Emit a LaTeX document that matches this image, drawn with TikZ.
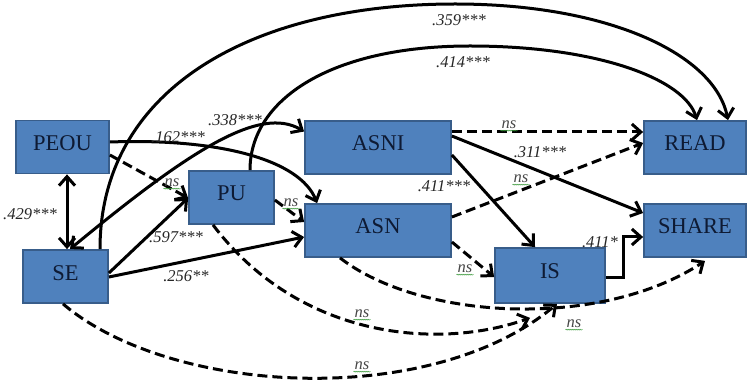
\documentclass[tikz,border=0pt]{standalone}
\usepackage{fontspec}
\setmainfont{Liberation Serif}
\usetikzlibrary{arrows.meta,calc,decorations.pathmorphing}
\definecolor{boxfill}{HTML}{4F81BD}
\definecolor{boxline}{HTML}{385D8A}
\definecolor{boxtext}{HTML}{0E1A33}
\definecolor{labtext}{HTML}{262626}
\definecolor{wavy}{HTML}{3C9A3C}
\begin{document}
\begin{tikzpicture}[x=1pt,y=-1pt,
  box/.style={draw=boxline, line width=1.8pt, fill=boxfill, inner sep=0pt, text=boxtext,
    font=\fontsize{22.5}{22.5}\selectfont, text height=15pt, text depth=8pt, minimum height=53pt},
  lab/.style={font=\fontsize{16.5}{16.5}\selectfont\itshape, text=labtext, inner sep=1pt},
  wavyline/.style={draw=wavy, line width=0.5pt, decorate, decoration={snake, amplitude=0.5pt, segment length=2pt}},
  nslab/.style={lab, text=labtext!85, append after command={([yshift=-0.5pt]\tikzlastnode.south west) edge[wavyline] ([yshift=-0.5pt]\tikzlastnode.south east)}},
  tipx/.tip={Straight Barb[length=9pt,width=16pt]},
  conn/.style={line width=3pt, -tipx},
  dconn/.style={conn, dash pattern=on 10pt off 5pt},
]
\useasboundingbox (0,0) rectangle (749,387);

% boxes
\node[box, minimum width=93pt]  (PEOU)  at (62.5,147)   {PEOU};
\node[box, minimum width=85pt]  (SE)    at (65.5,276.5) {SE};
\node[box, minimum width=85pt]  (PU)    at (231.5,197.5) {PU};
\node[box, minimum width=146pt] (ASNI)  at (378,147.5)  {ASNI};
\node[box, minimum width=146pt] (ASN)   at (378,230.5)  {ASN};
\node[box, minimum width=110pt, minimum height=55pt] (IS) at (550,275.5) {IS};
\node[box, minimum width=102pt] (READ)  at (695,147.5)  {READ};
\node[box, minimum width=102pt] (SHARE) at (695,230.5)  {SHARE};

% long arcs
\draw[conn] ($(SE.north)+(34.5,0)$) .. controls (100,90) and (250,4) .. (455,4)
            .. controls (610,4) and (715,55) .. ($(READ.north)+(33,0)$);
\draw[conn] ($(PU.north)+(18.5,0)$) .. controls (250,100) and (330,46) .. (470,46)
            .. controls (600,46) and (685,80) .. ($(READ.north)+(2,0)$);

% curved connectors
\draw[conn, tipx-tipx] ($(SE.north)+(4.5,0)$) .. controls (190,150) and (260,105) .. ($(ASNI.west)+(0,-16)$);
\draw[conn] ($(PEOU.east)+(0,-5)$) .. controls (220,138) and (300,160) .. ($(ASN.north west)+(13,0)$);
\draw[dconn] ($(PU.south)+(-18.5,0)$) .. controls (300,340) and (440,350) .. ($(IS.south)+(-20,14)$);
\draw[dconn] ($(SE.south)+(-2.5,0)$) .. controls (170,395) and (430,410) .. ($(IS.south)+(7,0)$);
\draw[dconn] ($(ASN.south)+(-38,0)$) .. controls (420,320) and (600,330) .. ($(SHARE.south)+(10,3)$);

% straight connectors
\draw[conn, tipx-tipx] ($(PEOU.south)+(4.5,0)$) -- ($(SE.north)+(1.5,0)$);
\draw[dconn] ($(PEOU.east)+(0,8)$) -- ($(PU.west)+(0,0.5)$);
\draw[conn] ($(SE.east)+(0,-3.5)$) -- ($(PU.west)+(0,0.5)$);
\draw[conn] ($(SE.east)+(0,0.5)$) -- ($(ASN.west)+(0,6.5)$);
\draw[dconn] ($(PU.east)+(0,2.5)$) -- ($(ASN.west)+(0,-8.5)$);
\draw[dconn] ($(ASNI.east)+(0,-15.5)$) -- ($(READ.west)+(0,-15.5)$);
\draw[conn] ($(ASNI.east)+(0,-11.5)$) -- ($(SHARE.west)+(0,-17.5)$);
\draw[conn] ($(ASNI.east)+(0,7.5)$) -- ($(IS.north)+(-15,0)$);
\draw[dconn] ($(ASN.east)+(0,-13.5)$) -- ($(READ.west)+(0,-4.5)$);
\draw[dconn] ($(ASN.east)+(0,11.5)$) -- ($(IS.west)+(0,1.5)$);
\draw[conn] ($(IS.east)+(0,1.5)$) -- ++(18,0) |- ($(SHARE.west)+(0,6.5)$);

% labels
\node[lab] (l1) at (459,20) {.359***};
\node[lab] (l2) at (463,62) {.414***};
\node[lab] (l3) at (235,120) {.338***};
\node[lab] (l4) at (178,137) {.162***};
\node[lab] (l5) at (30,214) {.429***};
\node[nslab] (l6) at (172,183) {ns};
\node[lab] (l7) at (176,237) {.597***};
\node[lab] (l8) at (186,276) {.256**};
\node[nslab] (l9) at (291,203) {ns};
\node[nslab] (l10) at (509,125) {ns};
\node[lab] (l11) at (540,152) {.311***};
\node[nslab] (l12) at (521,179) {ns};
\node[lab] (l13) at (444,186) {.411***};
\node[nslab] (l14) at (465,269) {ns};
\node[lab] (l15) at (600,242) {.411*};
\node[nslab] (l16) at (574,324) {ns};
\node[nslab] (l17) at (362,314) {ns};
\node[nslab] (l18) at (362,366) {ns};
\end{tikzpicture}
\end{document}
